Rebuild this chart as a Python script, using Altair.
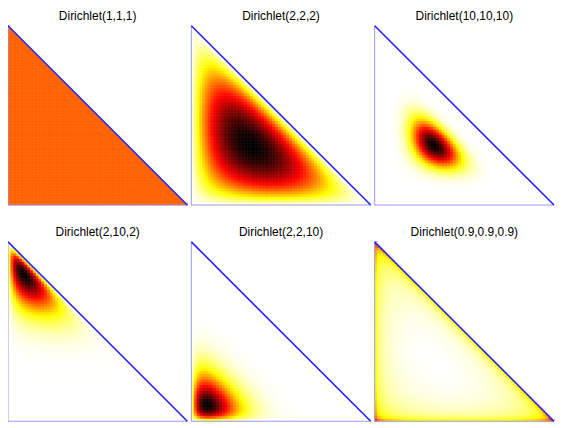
import numpy as np
import pandas as pd
import altair as alt
from math import lgamma

# Dirichlet parameters, one per panel
titles = ["Dirichlet(1,1,1)", "Dirichlet(2,2,2)", "Dirichlet(10,10,10)",
          "Dirichlet(2,10,2)", "Dirichlet(2,2,10)", "Dirichlet(0.9,0.9,0.9)"]
alpha1 = [1, 2, 10, 2, 2, 0.9]
alpha2 = [1, 2, 10, 10, 2, 0.9]
alpha3 = [1, 2, 10, 2, 10, 0.9]

N = 64     # drawn grid cells per side
M = 300    # finer grid used for the colour range

# reversed "hot" colour map
hot_domain = [0, 0.25, 0.625, 1]
hot_range = ["#ffffff", "#ffff00", "#ff0000", "#000000"]


def logpdf(u, v, a1, a2, a3):
    w = np.maximum(1 - u - v, 1e-12)
    lognorm = lgamma(a1 + a2 + a3) - lgamma(a1) - lgamma(a2) - lgamma(a3)
    return lognorm + (a1 - 1) * np.log(u) + (a2 - 1) * np.log(v) + (a3 - 1) * np.log(w)


def density_grid(a1, a2, a3):
    rows = []
    for i in range(N):
        for j in range(N - i):
            off = 0.5 if i + j < N - 1 else 1 / 3
            rows.append({"x": i / N, "x2": (i + 1) / N, "y": j / N, "y2": (j + 1) / N,
                         "u": (i + off) / N, "v": (j + off) / N})
    df = pd.DataFrame(rows)
    df["d"] = np.exp(logpdf(df["u"].values, df["v"].values, a1, a2, a3))
    # colour range from a finer grid of the same density
    fi, fj = np.meshgrid(np.arange(M), np.arange(M))
    keep = fi + fj < M - 1
    fd = np.exp(logpdf((fi[keep] + 0.5) / M, (fj[keep] + 0.5) / M, a1, a2, a3))
    lo, hi = fd.min(), fd.max()
    if hi - lo < 1e-9:
        df["t"] = 0.48  # flat density: middle of the colour map
    else:
        df["t"] = ((df["d"] - lo) / (hi - lo)).clip(0, 1)
    return df


xs = alt.Scale(domain=[0, 1], nice=False, zero=False, padding=0)
ys = alt.Scale(domain=[0, 1], nice=False, zero=False, padding=0)
cs = alt.Scale(domain=hot_domain, range=hot_range, interpolate="rgb")

edge = pd.DataFrame({"x": [0, 1], "y": [1, 0], "top": [1, 1]})
sides = pd.DataFrame({"x": [0, 0, 1], "y": [1, 0, 0]})


def panel(k):
    df = density_grid(alpha1[k], alpha2[k], alpha3[k])
    cells = alt.Chart(df).mark_rect(strokeWidth=0.6).encode(
        x=alt.X("x:Q", scale=xs, axis=None),
        x2="x2",
        y=alt.Y("y:Q", scale=ys, axis=None),
        y2="y2",
        color=alt.Color("t:Q", scale=cs, legend=None),
        stroke=alt.Stroke("t:Q", scale=cs, legend=None),
    )
    mask = alt.Chart(edge).mark_area(color="white", opacity=1).encode(
        x=alt.X("x:Q", scale=xs, axis=None), y=alt.Y("y:Q", scale=ys, axis=None), y2="top"
    )
    outline = alt.Chart(sides).mark_line(color="#9999ff", strokeWidth=1).encode(
        x=alt.X("x:Q", scale=xs, axis=None), y=alt.Y("y:Q", scale=ys, axis=None),
        order=alt.Order("y:Q", sort="descending")
    )
    hyp = alt.Chart(edge).mark_line(color="#2222ff", strokeWidth=1.6).encode(
        x=alt.X("x:Q", scale=xs, axis=None), y=alt.Y("y:Q", scale=ys, axis=None)
    )
    return alt.layer(cells, mask, outline, hyp).properties(
        width=180, height=180,
        title=alt.TitleParams(titles[k], fontSize=12, font="Liberation Sans",
                              fontWeight="normal", offset=0),
    )


row1 = alt.hconcat(panel(0), panel(1), panel(2), spacing=-5)
row2 = alt.hconcat(panel(3), panel(4), panel(5), spacing=-5)
chart = alt.vconcat(row1, row2, spacing=16).properties(
    padding={"left": -4, "top": 0, "right": 0, "bottom": 0}
).configure_view(stroke=None)

chart.save("out.html", embed_options={"renderer": "svg", "actions": False})
